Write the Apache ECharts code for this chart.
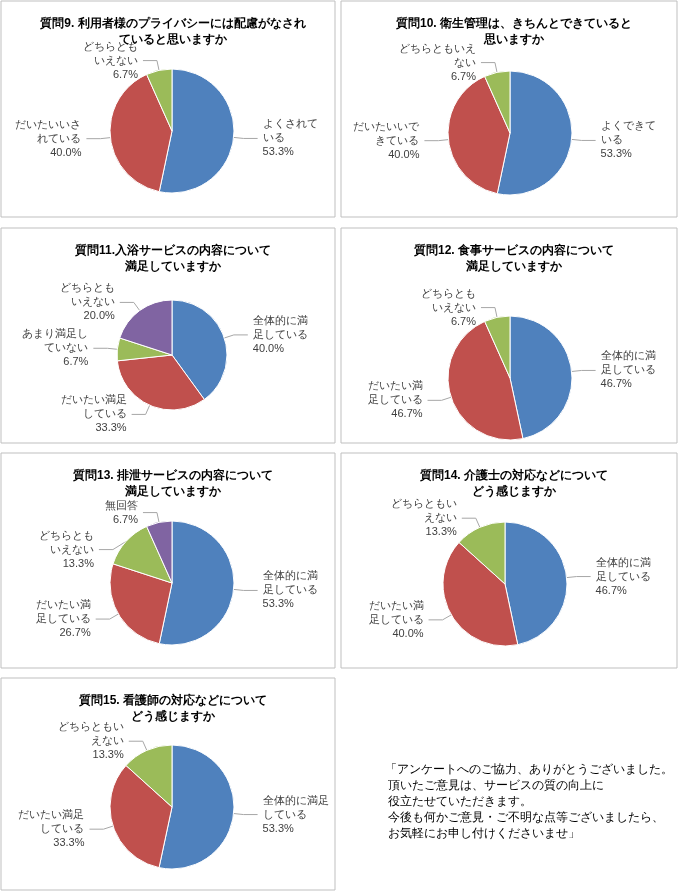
<!DOCTYPE html><html><head><meta charset="utf-8"><script src="https://cdn.jsdelivr.net/npm/echarts@6/dist/echarts.min.js"></script>
<style>html,body{margin:0;background:#fff}#c{width:679px;height:892px}</style></head><body><div id="c"></div><script>
const titles=["質問9. 利用者様のプライバシーには配慮がなされ\nていると思いますか","質問10. 衛生管理は、きちんとできていると\n思いますか","質問11.入浴サービスの内容について\n満足していますか","質問12. 食事サービスの内容について\n満足していますか","質問13. 排泄サービスの内容について\n満足していますか","質問14. 介護士の対応などについて\nどう感じますか","質問15. 看護師の対応などについて\nどう感じますか"];
const names=[["よくされて\nいる","だいたいいさ\nれている","どちらとも\nいえない"],["よくできて\nいる","だいたいいで\nきている","どちらともいえ\nない"],["全体的に満\n足している","だいたい満足\nしている","あまり満足し\nていない","どちらとも\nいえない"],["全体的に満\n足している","だいたい満\n足している","どちらとも\nいえない"],["全体的に満\n足している","だいたい満\n足している","どちらとも\nいえない","無回答"],["全体的に満\n足している","だいたい満\n足している","どちらともい\nえない"],["全体的に満足\nしている","だいたい満足\nしている","どちらともい\nえない"]];
const values=[[53.3,40.0,6.7],[53.3,40.0,6.7],[40.0,33.3,6.7,20.0],[46.7,46.7,6.7],[53.3,26.7,13.3,6.7],[46.7,40.0,13.3],[53.3,33.3,13.3]];
const colors=["#4f81bd","#c0504d","#9bbb59","#8064a2"];
const panels=[[1,1,334,216],[341,1,336,216],[1,228,334,215],[341,228,336,215],[1,453,334,215],[341,453,336,215],[1,678,334,212]];
const centers=[[172,131],[510,133],[172,355],[510,378],[172,583],[505,584],[172,807]];
const radii=[62,62,55,62,62,62,62];
const series=values.map((v,i)=>({type:'pie',center:centers[i],radius:radii[i],startAngle:90,clockwise:true,
 data:v.map((x,j)=>({value:x,name:names[i][j],itemStyle:{color:colors[j]}})),
 itemStyle:{borderColor:'#fff',borderWidth:1},
 label:{formatter:p=>p.name+'\n'+p.value.toFixed(1)+'%',fontSize:11,color:'#404040',lineHeight:14,align:'center'},
 labelLine:{length:10,length2:14,lineStyle:{color:'#a6a6a6'}},animation:false}));
const title=titles.map((t,i)=>({text:t,left:panels[i][0]+panels[i][2]/2,top:panels[i][1]+10,textAlign:'center',textStyle:{fontSize:12,fontWeight:'bold',color:'#000',lineHeight:16}}));
const graphic=panels.map(p=>({type:'rect',shape:{x:p[0],y:p[1],width:p[2],height:p[3]},style:{fill:'none',stroke:'#bfbfbf',lineWidth:1}}));
graphic.push({type:'text',left:385,top:762,style:{text:"「アンケートへのご協力、ありがとうございました。\n 頂いたご意見は、サービスの質の向上に\n 役立たせていただきます。\n 今後も何かご意見・ご不明な点等ございましたら、\n お気軽にお申し付けくださいませ」",fontSize:12,lineHeight:16,fill:'#000'}});
echarts.init(document.getElementById('c')).setOption({animation:false,title,graphic,series});
</script></body></html>
